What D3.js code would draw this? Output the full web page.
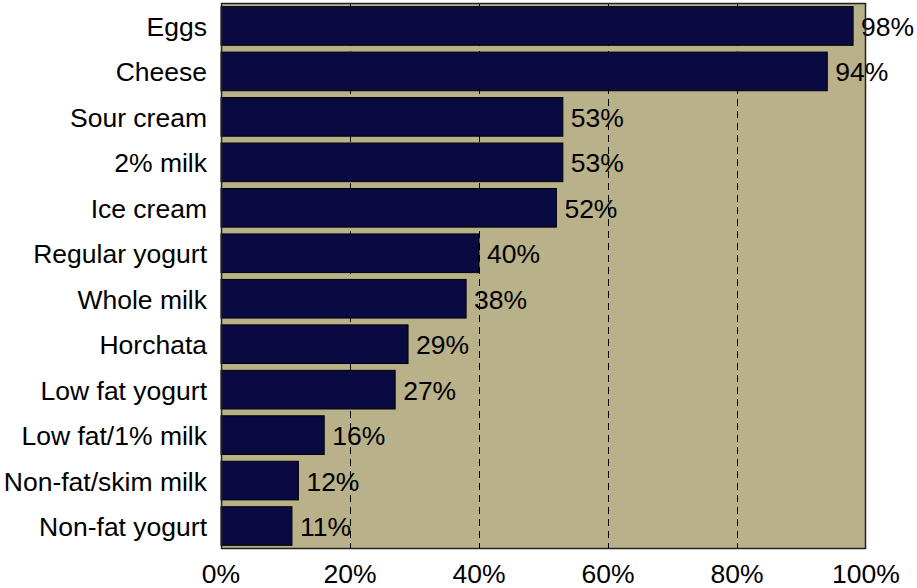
<!DOCTYPE html>
<html>
<head>
<meta charset="utf-8">
<script src="https://cdn.jsdelivr.net/npm/d3@7"></script>
<style>
  html, body { margin: 0; padding: 0; background: #ffffff; }
  svg { display: block; }
  text { font-family: "Liberation Sans", Arial, sans-serif; fill: #000; }
</style>
</head>
<body>
<svg id="chart" width="917" height="588"></svg>
<script>
// Share of respondents consuming each item
const categories = ["Eggs", "Cheese", "Sour cream", "2% milk", "Ice cream", "Regular yogurt",
  "Whole milk", "Horchata", "Low fat yogurt", "Low fat/1% milk", "Non-fat/skim milk", "Non-fat yogurt"];
const values = [98, 94, 53, 53, 52, 40, 38, 29, 27, 16, 12, 11];
const tickValues = [0, 20, 40, 60, 80, 100];

const svg = d3.select("#chart");
const plot = { left: 221, right: 866, top: 3, bottom: 549 };
const fontSize = 26.5;

const x = d3.scaleLinear().domain([0, 100]).range([plot.left, plot.right]);
const y = d3.scaleBand().domain(categories).range([plot.top, plot.bottom])
  .paddingInner(0.15).paddingOuter(0.08);

// plot background
svg.append("rect")
  .attr("x", plot.left).attr("y", plot.top)
  .attr("width", plot.right - plot.left).attr("height", plot.bottom - plot.top)
  .attr("fill", "#b9b189");

// dashed gridlines
svg.append("g").selectAll("line")
  .data(tickValues.filter(d => d > 0 && d < 100))
  .join("line")
  .attr("x1", d => Math.round(x(d)) + 0.5).attr("x2", d => Math.round(x(d)) + 0.5)
  .attr("y1", plot.top).attr("y2", plot.bottom)
  .attr("stroke", "#000").attr("stroke-width", 1)
  .attr("stroke-dasharray", "7,5");

// bars
svg.append("g").selectAll("rect")
  .data(categories)
  .join("rect")
  .attr("x", x(0))
  .attr("y", d => y(d))
  .attr("width", (d, i) => x(values[i]) - x(0))
  .attr("height", y.bandwidth())
  .attr("fill", "#0a0a42")
  .attr("stroke", "#000")
  .attr("stroke-width", 1);

// value labels
svg.append("g").selectAll("text")
  .data(categories)
  .join("text")
  .attr("x", (d, i) => x(values[i]) + 8)
  .attr("y", d => y(d) + y.bandwidth() / 2)
  .attr("dy", "0.38em")
  .attr("font-size", fontSize)
  .text((d, i) => values[i] + "%");

// category axis labels
svg.append("g").selectAll("text")
  .data(categories)
  .join("text")
  .attr("x", plot.left - 14)
  .attr("y", d => y(d) + y.bandwidth() / 2)
  .attr("dy", "0.38em")
  .attr("text-anchor", "end")
  .attr("font-size", fontSize)
  .text(d => d);

// x axis tick labels
svg.append("g").selectAll("text")
  .data(tickValues)
  .join("text")
  .attr("x", d => x(d))
  .attr("y", 583)
  .attr("text-anchor", "middle")
  .attr("font-size", fontSize)
  .text(d => d + "%");

// plot frame
svg.append("rect")
  .attr("x", plot.left + 0.5).attr("y", plot.top + 0.5)
  .attr("width", plot.right - plot.left - 1).attr("height", plot.bottom - plot.top - 1)
  .attr("fill", "none")
  .attr("stroke", "#222").attr("stroke-width", 1.5);
</script>
</body>
</html>
